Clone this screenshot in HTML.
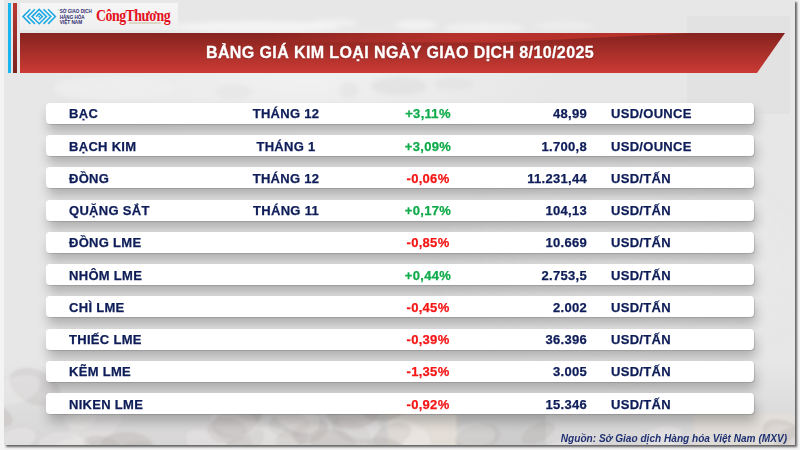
<!DOCTYPE html>
<html><head><meta charset="utf-8">
<style>
*{margin:0;padding:0;box-sizing:border-box}
html,body{width:800px;height:450px;overflow:hidden;background:#f4f4f4;font-family:"Liberation Sans",sans-serif}
#card{position:absolute;left:4px;top:0;width:791px;height:445px;background:#e7e7e7;box-shadow:2px 2px 2px rgba(0,0,0,.6);overflow:hidden}
#card svg{position:absolute;left:0;top:0}
#bar1{position:absolute;left:8px;top:3px;width:3px;height:70px;background:#18b5ee}
#bar2{position:absolute;left:13px;top:3px;width:4px;height:70px;background:linear-gradient(#bb3731,#7a231f)}
#logo{position:absolute;left:20px;top:3px;width:158px;height:27px;background:linear-gradient(180deg,#f6f6f6,#efefef)}
#logo svg{position:absolute;left:0;top:0}
#ct{position:absolute;left:76px;top:2.6px;transform:scaleX(.84);transform-origin:0 0;font-family:"Liberation Serif",serif;font-weight:bold;font-size:16.5px;color:#e3111c;letter-spacing:-.6px;white-space:nowrap}
#title{position:absolute;left:0;top:33px;width:800px;height:40px;line-height:40px;text-align:center;color:#fff;font-weight:bold;font-size:16px;letter-spacing:.4px;-webkit-text-stroke:.3px;text-shadow:0 1px 1px rgba(90,10,10,.5)}
.row{position:absolute;left:46px;width:708px;height:21px;background:#fff;border-radius:4px;box-shadow:1px 1px 1px rgba(0,0,0,.14),2px 8px 12px rgba(0,0,0,.24)}
.row span{position:absolute;top:0;line-height:21px;font-weight:bold;font-size:13px;letter-spacing:.3px;-webkit-text-stroke:.25px;color:#0e1d58;white-space:nowrap}
.t1 span{top:1px}
.c1{left:23px}
.c2{left:240px;width:0}
.c2 b,.c3 b{position:absolute;transform:translateX(-50%);font-weight:bold}
.c3{left:382px}
.c4{right:167px}
.c5{left:565px}
.row .up{color:#10ab4b}
.row .dn{color:#f51616}
#src{position:absolute;right:13px;top:433px;font-style:italic;font-weight:bold;font-size:10.1px;line-height:12px;color:#1f3173;white-space:nowrap}
</style></head><body>
<div id="card">
<svg width="791" height="445">
<defs>
<radialGradient id="bl" cx="0.5" cy="0.5" r="0.5"><stop offset="0" stop-color="#f2f2f2" stop-opacity=".9"/><stop offset="1" stop-color="#f2f2f2" stop-opacity="0"/></radialGradient>
<filter id="bl2" x="-20%" y="-50%" width="140%" height="200%"><feGaussianBlur stdDeviation="2.5"/></filter>
<filter id="bl1" x="-5%" y="-5%" width="110%" height="110%"><feGaussianBlur stdDeviation="1.2"/></filter>
<linearGradient id="bot" x1="0" y1="0" x2="0" y2="1"><stop offset="0" stop-color="#d4d2d2" stop-opacity="0"/><stop offset="1" stop-color="#d4d2d2" stop-opacity=".85"/></linearGradient>
</defs>
<rect x="0" y="360" width="791" height="85" fill="url(#bot)"/>
<g filter="url(#bl1)">
<rect x="384" y="414" width="70" height="32" fill="#f0e6d6" opacity=".45"/>
<rect x="452" y="414" width="90" height="32" fill="#b9b9bb" opacity=".35"/>
<rect x="690" y="414" width="101" height="32" fill="#eee6d8" opacity=".35"/>
<ellipse cx="31" cy="387" rx="27" ry="17" transform="rotate(25 31 387)" fill="#b5afac" opacity="0.26"/>
<ellipse cx="667" cy="452" rx="17" ry="10" transform="rotate(-15 667 452)" fill="#f3f1ef" opacity="0.28"/>
<ellipse cx="91" cy="423" rx="27" ry="17" transform="rotate(-20 91 423)" fill="#f3f1ef" opacity="0.20"/>
<ellipse cx="404" cy="434" rx="24" ry="13" transform="rotate(26 404 434)" fill="#f3f1ef" opacity="0.34"/>
<ellipse cx="534" cy="433" rx="18" ry="9" transform="rotate(-26 534 433)" fill="#b5afac" opacity="0.28"/>
<ellipse cx="285" cy="425" rx="20" ry="13" transform="rotate(-1 285 425)" fill="#b5afac" opacity="0.26"/>
<ellipse cx="-7" cy="416" rx="16" ry="10" transform="rotate(21 -7 416)" fill="#b5afac" opacity="0.31"/>
<ellipse cx="243" cy="410" rx="17" ry="9" transform="rotate(27 243 410)" fill="#b5afac" opacity="0.31"/>
<ellipse cx="778" cy="432" rx="20" ry="12" transform="rotate(17 778 432)" fill="#b5afac" opacity="0.31"/>
<ellipse cx="388" cy="435" rx="20" ry="11" transform="rotate(-19 388 435)" fill="#b5afac" opacity="0.21"/>
<ellipse cx="347" cy="431" rx="21" ry="11" transform="rotate(25 347 431)" fill="#b5afac" opacity="0.26"/>
<ellipse cx="355" cy="423" rx="21" ry="15" transform="rotate(21 355 423)" fill="#f3f1ef" opacity="0.26"/>
<ellipse cx="306" cy="432" rx="19" ry="11" transform="rotate(-21 306 432)" fill="#b5afac" opacity="0.35"/>
<ellipse cx="658" cy="437" rx="20" ry="10" transform="rotate(-14 658 437)" fill="#f3f1ef" opacity="0.33"/>
<ellipse cx="330" cy="445" rx="24" ry="15" transform="rotate(16 330 445)" fill="#b5afac" opacity="0.30"/>
<ellipse cx="204" cy="445" rx="24" ry="13" transform="rotate(27 204 445)" fill="#f3f1ef" opacity="0.28"/>
<ellipse cx="230" cy="421" rx="24" ry="14" transform="rotate(19 230 421)" fill="#f3f1ef" opacity="0.32"/>
<ellipse cx="271" cy="443" rx="26" ry="15" transform="rotate(21 271 443)" fill="#f3f1ef" opacity="0.30"/>
<ellipse cx="783" cy="438" rx="22" ry="12" transform="rotate(20 783 438)" fill="#f3f1ef" opacity="0.26"/>
<ellipse cx="288" cy="438" rx="17" ry="10" transform="rotate(-16 288 438)" fill="#b5afac" opacity="0.20"/>
<ellipse cx="76" cy="419" rx="16" ry="10" transform="rotate(-7 76 419)" fill="#f3f1ef" opacity="0.28"/>
<ellipse cx="379" cy="410" rx="21" ry="11" transform="rotate(-5 379 410)" fill="#b5afac" opacity="0.32"/>
<ellipse cx="15" cy="438" rx="17" ry="10" transform="rotate(-10 15 438)" fill="#f3f1ef" opacity="0.34"/>
<ellipse cx="13" cy="390" rx="24" ry="13" transform="rotate(-21 13 390)" fill="#f3f1ef" opacity="0.28"/>
<ellipse cx="788" cy="441" rx="20" ry="13" transform="rotate(-30 788 441)" fill="#b5afac" opacity="0.28"/>
<ellipse cx="564" cy="454" rx="27" ry="16" transform="rotate(-14 564 454)" fill="#f3f1ef" opacity="0.26"/>
<ellipse cx="134" cy="454" rx="22" ry="12" transform="rotate(-1 134 454)" fill="#b5afac" opacity="0.29"/>
<ellipse cx="123" cy="445" rx="26" ry="13" transform="rotate(2 123 445)" fill="#b5afac" opacity="0.34"/>
<ellipse cx="223" cy="431" rx="20" ry="13" transform="rotate(5 223 431)" fill="#b5afac" opacity="0.22"/>
<ellipse cx="385" cy="450" rx="23" ry="11" transform="rotate(17 385 450)" fill="#b5afac" opacity="0.28"/>
<ellipse cx="349" cy="413" rx="26" ry="16" transform="rotate(-4 349 413)" fill="#b5afac" opacity="0.31"/>
<ellipse cx="474" cy="437" rx="23" ry="13" transform="rotate(-10 474 437)" fill="#b5afac" opacity="0.28"/>
<ellipse cx="799" cy="445" rx="17" ry="11" transform="rotate(-17 799 445)" fill="#f3f1ef" opacity="0.34"/>
<ellipse cx="471" cy="435" rx="20" ry="12" transform="rotate(-1 471 435)" fill="#f3f1ef" opacity="0.24"/>
<ellipse cx="293" cy="417" rx="24" ry="14" transform="rotate(25 293 417)" fill="#f3f1ef" opacity="0.29"/>
<ellipse cx="232" cy="421" rx="25" ry="15" transform="rotate(-22 232 421)" fill="#b5afac" opacity="0.24"/>
<ellipse cx="100" cy="449" rx="22" ry="12" transform="rotate(18 100 449)" fill="#b5afac" opacity="0.30"/>
<ellipse cx="63" cy="453" rx="24" ry="13" transform="rotate(-23 63 453)" fill="#f3f1ef" opacity="0.29"/>
<ellipse cx="57" cy="447" rx="24" ry="15" transform="rotate(-4 57 447)" fill="#f3f1ef" opacity="0.27"/>
<ellipse cx="241" cy="443" rx="21" ry="11" transform="rotate(-28 241 443)" fill="#b5afac" opacity="0.19"/>
</g>
<ellipse cx="300" cy="80" rx="260" ry="60" fill="url(#bl)"/>
<g filter="url(#bl2)">
<ellipse cx="250" cy="27" rx="85" ry="6" fill="#f4f4f4" opacity=".9"/>
<ellipse cx="330" cy="23" rx="25" ry="4" fill="#f4f4f4" opacity=".7"/>
<ellipse cx="412" cy="25" rx="22" ry="5" fill="#f4f4f4" opacity=".8"/>
<ellipse cx="480" cy="28" rx="40" ry="5" fill="#f2f2f2" opacity=".8"/>
<ellipse cx="560" cy="26" rx="30" ry="4" fill="#f2f2f2" opacity=".6"/>
<ellipse cx="110" cy="88" rx="60" ry="12" fill="#f0f0f0" opacity=".7"/>
<ellipse cx="395" cy="86" rx="28" ry="9" fill="#dadada" opacity=".5"/>
<ellipse cx="450" cy="84" rx="20" ry="6" fill="#dcdcdc" opacity=".45"/>
<ellipse cx="345" cy="90" rx="10" ry="8" fill="#dcdcdc" opacity=".4"/>
<ellipse cx="230" cy="92" rx="18" ry="7" fill="#dedede" opacity=".4"/>
</g>
<rect x="683" y="16" width="103" height="98" fill="#000" opacity=".02"/>

<ellipse cx="620" cy="270" rx="200" ry="120" fill="url(#bl)" opacity=".6"/>
</svg>
</div>
<div id="bar1"></div><div id="bar2"></div>
<div id="logo">
<svg width="158" height="28" viewBox="0 0 158 28">
<g fill="none" stroke="#1ba8e4" stroke-width="1.5" stroke-linejoin="miter">
<polyline points="10.3,6.3 3,13.6 10.3,20.9"/>
<polyline points="14.9,6.3 7.6,13.6 14.9,20.9"/>
<polygon points="19.2,6.4 26.4,13.6 19.2,20.8 12,13.6"/>
<polyline points="23.5,6.3 30.8,13.6 23.5,20.9"/>
<polyline points="28.1,6.3 35.4,13.6 28.1,20.9"/>
<polyline points="16.1,13.6 19.2,10.5 22.3,13.6 19.2,16.7"/>
</g>
<rect x="18.4" y="12.8" width="1.6" height="1.6" fill="#1ba8e4"/>
<rect x="37.5" y="6.6" width="2" height=".8" fill="#8fd0ee"/>
<g font-family="Liberation Sans" font-weight="bold" font-size="4.9" fill="#2d2b6e">
<text x="39.7" y="10.4" textLength="32" lengthAdjust="spacingAndGlyphs">SỞ GIAO DỊCH</text>
<text x="39.7" y="15.7" textLength="25" lengthAdjust="spacingAndGlyphs">HÀNG HÓA</text>
<text x="39.7" y="20.9" textLength="22.5" lengthAdjust="spacingAndGlyphs">VIỆT NAM</text>
</g>
<rect x="109" y="19.5" width="32" height="1" fill="#c9b99a"/>
</svg>
<div id="ct">CôngThương</div>
</div>
<svg width="765" height="40" style="position:absolute;left:20px;top:33px">
<defs><linearGradient id="sh" x1="0" y1="0" x2="1" y2="0"><stop offset="0" stop-color="#c0342e" stop-opacity="0"/><stop offset=".45" stop-color="#c0342e" stop-opacity=".8"/><stop offset="1" stop-color="#c0342e" stop-opacity=".85"/></linearGradient><linearGradient id="rg" x1="0" y1="0" x2="0" y2="1"><stop offset="0" stop-color="#85231f"/><stop offset="1" stop-color="#cc3a34"/></linearGradient></defs>
<polygon points="0,0 765,0 737,40 0,40" fill="url(#rg)"/>
<polygon points="240,0 672,0 480,9.5 240,9.5" fill="url(#sh)"/>
</svg>
<div id="title"><span>BẢNG GIÁ KIM LOẠI NGÀY GIAO DỊCH 8/10/2025</span></div>

<div class="row" style="top:103px"><span class="c1">BẠC</span><span class="c2"><b>THÁNG 12</b></span><span class="c3 up"><b>+3,11%</b></span><span class="c4">48,99</span><span class="c5">USD/OUNCE</span></div>
<div class="row t1" style="top:135px"><span class="c1">BẠCH KIM</span><span class="c2"><b>THÁNG 1</b></span><span class="c3 up"><b>+3,09%</b></span><span class="c4">1.700,8</span><span class="c5">USD/OUNCE</span></div>
<div class="row t1" style="top:167px"><span class="c1">ĐỒNG</span><span class="c2"><b>THÁNG 12</b></span><span class="c3 dn"><b>-0,06%</b></span><span class="c4">11.231,44</span><span class="c5">USD/TẤN</span></div>
<div class="row" style="top:200px"><span class="c1">QUẶNG SẮT</span><span class="c2"><b>THÁNG 11</b></span><span class="c3 up"><b>+0,17%</b></span><span class="c4">104,13</span><span class="c5">USD/TẤN</span></div>
<div class="row" style="top:232px"><span class="c1">ĐỒNG LME</span><span class="c3 dn"><b>-0,85%</b></span><span class="c4">10.669</span><span class="c5">USD/TẤN</span></div>
<div class="row t1" style="top:264px"><span class="c1">NHÔM LME</span><span class="c3 up"><b>+0,44%</b></span><span class="c4">2.753,5</span><span class="c5">USD/TẤN</span></div>
<div class="row t1" style="top:296px"><span class="c1">CHÌ LME</span><span class="c3 dn"><b>-0,45%</b></span><span class="c4">2.002</span><span class="c5">USD/TẤN</span></div>
<div class="row" style="top:329px"><span class="c1">THIẾC LME</span><span class="c3 dn"><b>-0,39%</b></span><span class="c4">36.396</span><span class="c5">USD/TẤN</span></div>
<div class="row" style="top:361px"><span class="c1">KẼM LME</span><span class="c3 dn"><b>-1,35%</b></span><span class="c4">3.005</span><span class="c5">USD/TẤN</span></div>
<div class="row t1" style="top:393px"><span class="c1">NIKEN LME</span><span class="c3 dn"><b>-0,92%</b></span><span class="c4">15.346</span><span class="c5">USD/TẤN</span></div>
<div id="src">Nguồn: Sở Giao dịch Hàng hóa Việt Nam (MXV)</div>
</body></html>
